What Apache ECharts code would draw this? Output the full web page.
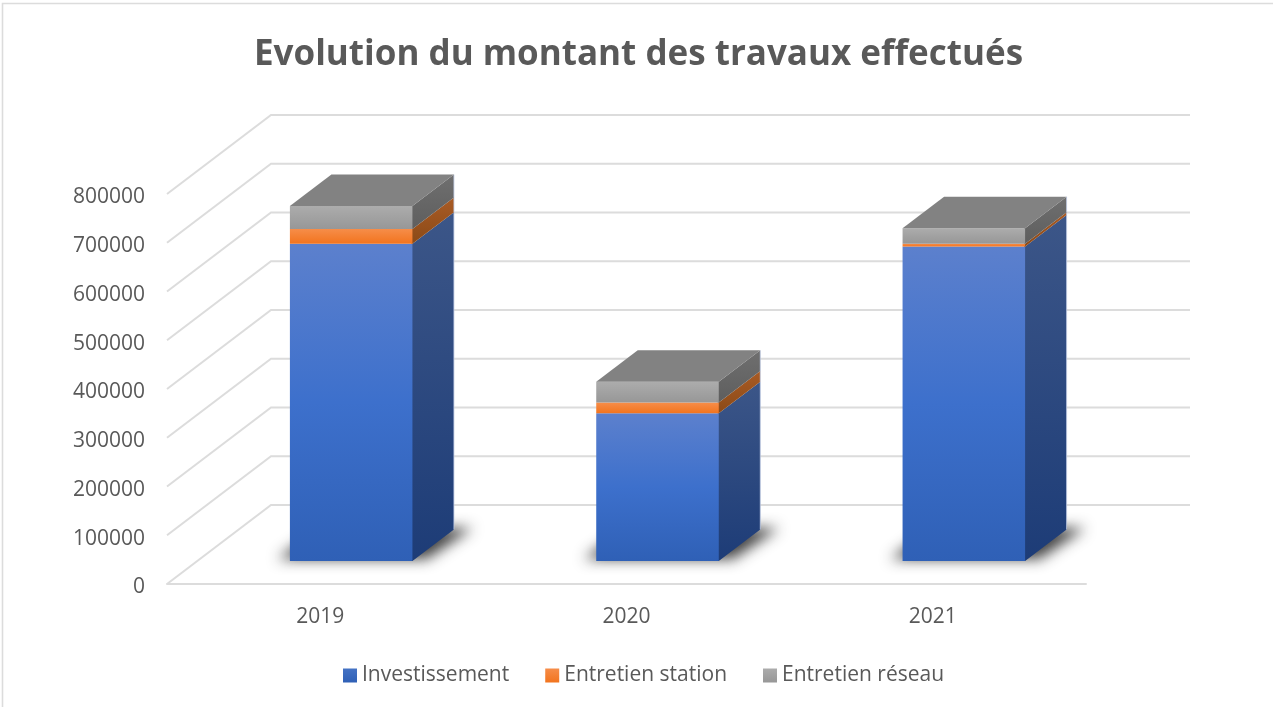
<!DOCTYPE html>
<html>
<head>
<meta charset="utf-8">
<style>html,body{margin:0;padding:0;background:#fff}#c{width:1273px;height:707px}</style>
<script src="https://cdn.jsdelivr.net/npm/echarts@6/dist/echarts.min.js"></script>
</head>
<body>
<div id="c"></div>
<script>
const titleText = 'Evolution du montant des travaux effectués';
const categories = ['2019', '2020', '2021'];
const investissement = [651000, 303000, 645000];
const entretienStation = [30000, 22000, 6000];
const entretienReseau = [47000, 42500, 31500];
const yTicks = [0, 100000, 200000, 300000, 400000, 500000, 600000, 700000, 800000];

// projection of the pseudo-3D box
const WALL_DX = 104, WALL_DY = -79;
const BAR_DX = 31, BAR_DY = -23, SIDE_DX = 41.5, SIDE_DY = -31.5, BAR_RATIO = 0.4;
const OFF = 3000;

const vGrad = (a, b) => ({type: 'linear', x: 0, y: 0, x2: 0, y2: 1, colorStops: [{offset: 0, color: a}, {offset: 1, color: b}]});
const blueFront = {type: 'linear', x: 0, y: 0, x2: 0, y2: 1, colorStops: [
  {offset: 0, color: '#5c80cd'}, {offset: 0.5, color: '#3d70cc'}, {offset: 1, color: '#2f60b6'}]};
const styles = {
  inv: {front: blueFront, side: vGrad('#3c5688', '#1d3c77'), legend: vGrad('#4472c4', '#2f60b6')},
  sta: {front: vGrad('#f68d49', '#f2741e'), side: vGrad('#a95b25', '#8b4a17'), legend: vGrad('#f68d49', '#f2741e')},
  res: {front: vGrad('#acacac', '#979797'), side: vGrad('#6f6f6f', '#5e5e5e'), legend: vGrad('#acacac', '#979797')}
};

const seriesVals = [investissement, entretienStation, entretienReseau];
function stackedData(k) {
  return categories.map((_, i) => {
    let base = 0;
    for (let j = 0; j < k; j++) base += seriesVals[j][i];
    return [i, base, base + seriesVals[k][i]];
  });
}
const pts = a => ({points: a});

function barRender(style, withTop) {
  return function (params, api) {
    const i = api.value(0);
    const p0 = api.coord([i, api.value(1)]);
    const p1 = api.coord([i, api.value(2)]);
    const w = api.size([1, 0])[0] * BAR_RATIO;
    const xl = p0[0] + BAR_DX - w / 2, xr = xl + w;
    const yb = p0[1] + BAR_DY, yt = p1[1] + BAR_DY;
    const children = [
      {type: 'polygon', shape: pts([[xr - 1, yb], [xr, yb], [xr + SIDE_DX, yb + SIDE_DY], [xr + SIDE_DX, yt + SIDE_DY], [xr, yt], [xr - 1, yt]]), style: {fill: style.side}},
      {type: 'polygon', shape: pts([[xl, yb], [xr, yb], [xr, yt], [xl, yt]]), style: {fill: style.front}},
      {type: 'line', shape: {x1: xr + SIDE_DX, y1: yb + SIDE_DY, x2: xr + SIDE_DX, y2: yt + SIDE_DY}, style: {stroke: 'rgba(190,200,225,0.8)', lineWidth: 1}}
    ];
    if (withTop) {
      children.push({type: 'polygon', shape: pts([[xl, yt], [xr, yt], [xr + SIDE_DX, yt + SIDE_DY], [xl + SIDE_DX, yt + SIDE_DY]]), style: {fill: '#828282'}});
    }
    return {type: 'group', children};
  };
}

// soft floor shadow: the shape sits off-canvas so only its blurred shadow shows
function shadowRender(params, api) {
  const i = api.value(0);
  const p0 = api.coord([i, 0]);
  const w = api.size([1, 0])[0] * BAR_RATIO;
  const xl = p0[0] + BAR_DX - w / 2, xr = xl + w, yb = p0[1] + BAR_DY;
  return {type: 'polygon', shape: pts([[xl - 12 - OFF, yb - 2], [xr + 14 - OFF, yb - 2], [xr + 60 - OFF, yb - 33], [xl + 30 - OFF, yb - 33]]),
    style: {fill: '#000', shadowBlur: 14, shadowOffsetX: OFF, shadowOffsetY: 0, shadowColor: 'rgba(45,45,45,0.9)'}};
}

function wallRender(params, api) {
  const cs = params.coordSys;
  const v = api.value(0);
  const y = api.coord([0, v])[1];
  const x0 = cs.x, x1 = cs.x + cs.width;
  const lineStyle = {stroke: '#dcdcdc', lineWidth: 2, fill: null};
  return {type: 'polyline', shape: pts([[x0, y], [x0 + WALL_DX, y + WALL_DY], [x1 + WALL_DX, y + WALL_DY]]), style: lineStyle};
}

const chart = echarts.init(document.getElementById('c'), null, {renderer: 'canvas'});
chart.setOption({
  animation: false,
  backgroundColor: '#fff',
  title: {text: titleText, left: 249, top: 33,
    textStyle: {fontFamily: 'Open Sans', fontSize: 35, fontWeight: 'bold', color: '#595959'}},
  legend: {
    data: ['Investissement', 'Entretien station', 'Entretien réseau'],
    left: 338, top: 660, itemWidth: 14, itemHeight: 14, itemGap: 36, icon: 'rect',
    textStyle: {fontFamily: 'Open Sans', fontSize: 21, color: '#595959'}
  },
  grid: {left: 167, width: 919, top: 194, height: 390, containLabel: false},
  xAxis: {type: 'category', data: categories, boundaryGap: true,
    axisLine: {lineStyle: {color: '#dcdcdc', width: 2}}, axisTick: {show: false},
    axisLabel: {margin: 23, fontFamily: 'Open Sans', fontSize: 21, color: '#595959'}},
  yAxis: {type: 'value', min: 0, max: 800000, interval: 100000,
    axisLine: {show: false}, axisTick: {show: false}, splitLine: {show: false},
    axisLabel: {margin: 22, fontFamily: 'Open Sans', fontSize: 21, color: '#595959', verticalAlign: 'top', lineHeight: 7,
      formatter: v => String(v)}},
  graphic: [{type: 'rect', z: -1, shape: {x: 2.5, y: 3.5, width: 1400, height: 900}, style: {fill: 'none', stroke: '#dcdcdc', lineWidth: 1.6}}],
  series: [
    {type: 'custom', name: 'walls', coordinateSystem: 'cartesian2d', silent: true, clip: false, data: yTicks.map(v => [v]), encode: {y: 0}, renderItem: wallRender, z: 1},
    {type: 'custom', name: 'shadow', coordinateSystem: 'cartesian2d', silent: true, clip: false, data: stackedData(0), encode: {x: 0, y: [1, 2]}, renderItem: shadowRender, z: 2},
    {type: 'custom', name: 'Investissement', coordinateSystem: 'cartesian2d', clip: false, itemStyle: {color: styles.inv.legend}, data: stackedData(0), encode: {x: 0, y: [1, 2]}, renderItem: barRender(styles.inv, false), z: 3},
    {type: 'custom', name: 'Entretien station', coordinateSystem: 'cartesian2d', clip: false, itemStyle: {color: styles.sta.legend}, data: stackedData(1), encode: {x: 0, y: [1, 2]}, renderItem: barRender(styles.sta, false), z: 3},
    {type: 'custom', name: 'Entretien réseau', coordinateSystem: 'cartesian2d', clip: false, itemStyle: {color: styles.res.legend}, data: stackedData(2), encode: {x: 0, y: [1, 2]}, renderItem: barRender(styles.res, true), z: 3}
  ]
});
</script>
</body>
</html>
